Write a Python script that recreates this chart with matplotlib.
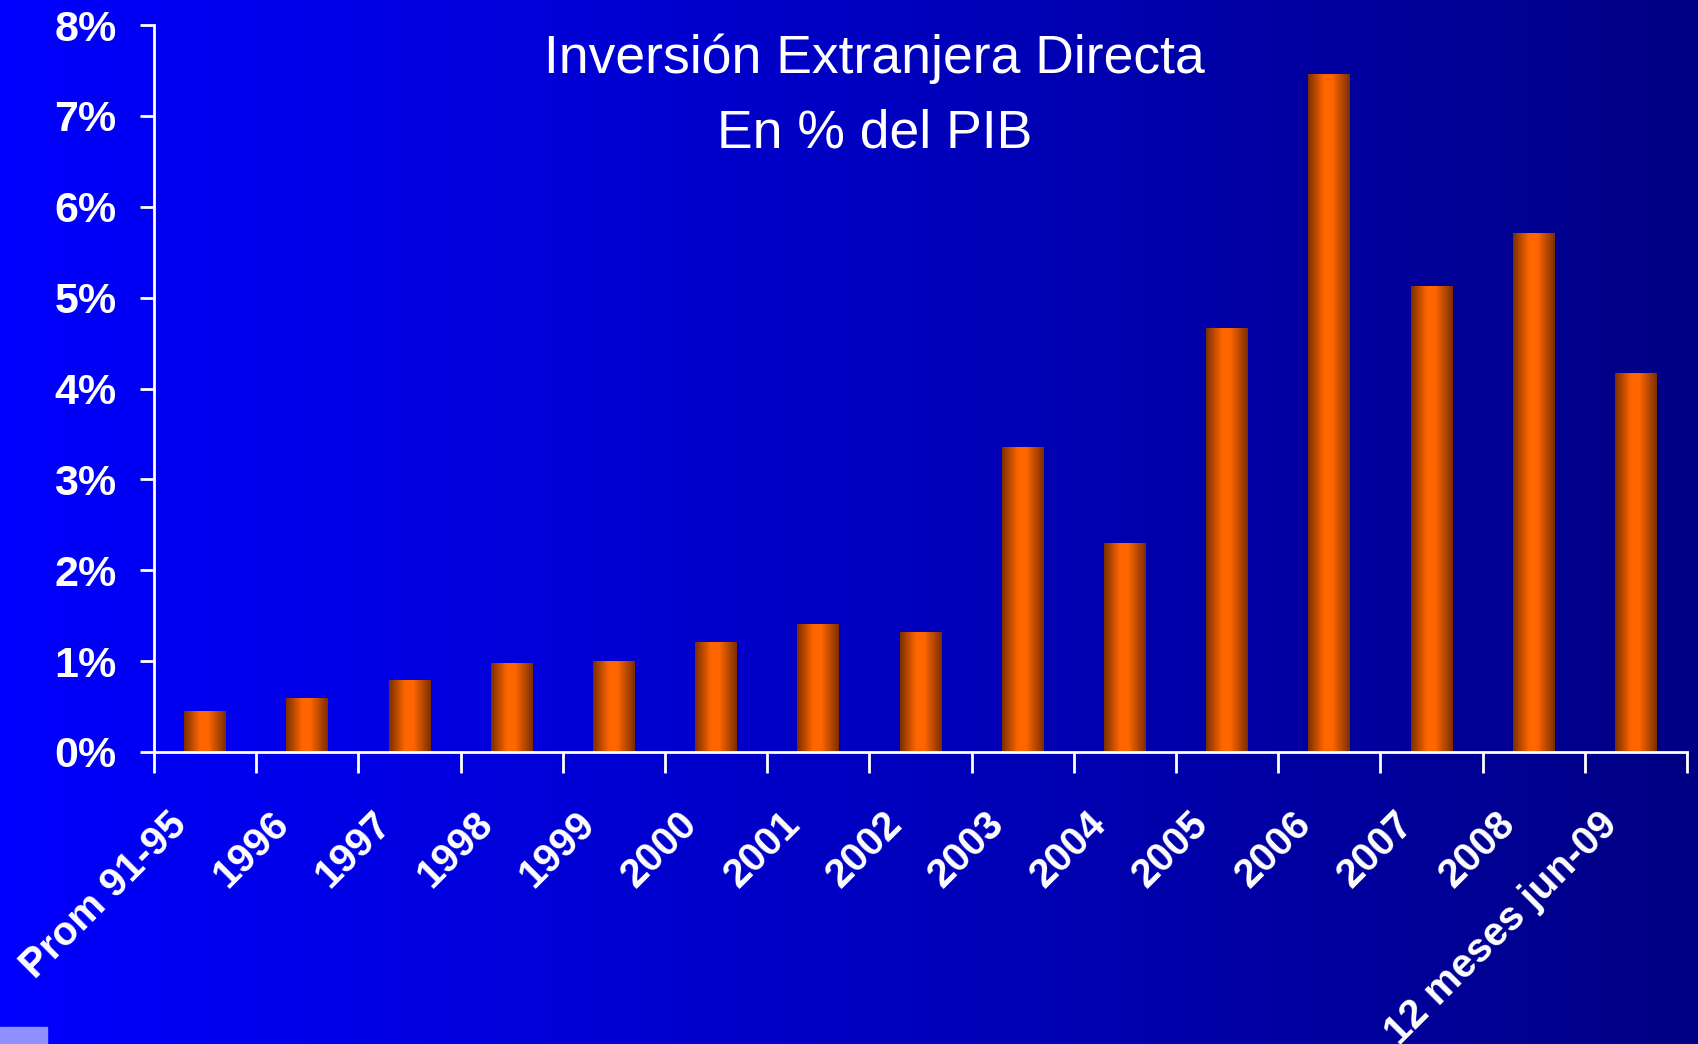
import numpy as np
import matplotlib
matplotlib.use("Agg")
import matplotlib.pyplot as plt
from matplotlib.colors import LinearSegmentedColormap
from matplotlib.ticker import FuncFormatter
from matplotlib.transforms import ScaledTranslation

categories = ["Prom 91-95", "1996", "1997", "1998", "1999", "2000", "2001", "2002",
              "2003", "2004", "2005", "2006", "2007", "2008", "12 meses jun-09"]
ied_pct = [0.45, 0.59, 0.79, 0.97, 1.00, 1.20, 1.40, 1.32,
           3.35, 2.29, 4.66, 7.46, 5.12, 5.71, 4.17]

title_lines = ["Inversión Extranjera Directa", "En % del PIB"]

plt.rcParams["font.family"] = ["Liberation Sans", "DejaVu Sans"]

fig = plt.figure(figsize=(16.98, 10.44), dpi=100)

# background: horizontal blue gradient
bg = fig.add_axes([0, 0, 1, 1], zorder=-10)
bg_cmap = LinearSegmentedColormap.from_list("bg", [(0, 0, 1.0), (0, 0, 0.52)])
bg.imshow(np.linspace(0, 1, 512).reshape(1, -1), cmap=bg_cmap, aspect="auto",
          extent=[0, 1, 0, 1])
bg.set_xlim(0, 1)
bg.set_ylim(0, 1)
bg.axis("off")
# small light patch in the lower-left corner
bg.add_patch(plt.Rectangle((0, 0), 47 / 1698, 17 / 1044, color="#8f8fff", zorder=5))

ax = fig.add_axes([0.0907, 0.2797, 0.9028, 0.6963])
ax.set_facecolor("none")

bar_cmap = LinearSegmentedColormap.from_list(
    "bar", [(0.0, "#7a2e00"), (0.38, "#ff6600"), (0.58, "#ff6600"), (1.0, "#7a2e00")])
grad = np.linspace(0, 1, 256).reshape(1, -1)

x = np.arange(len(categories))
width = 0.41
bars = ax.bar(x, ied_pct, width=width, color="none", edgecolor="none")
for b in bars:
    x0, y0 = b.get_x(), b.get_y()
    ax.imshow(grad, cmap=bar_cmap, aspect="auto", zorder=2,
              extent=[x0, x0 + b.get_width(), y0, y0 + b.get_height()])

ax.set_xlim(-0.5, len(categories) - 0.5)
ax.set_ylim(0, 8)

for side in ["top", "right"]:
    ax.spines[side].set_visible(False)
for side in ["left", "bottom"]:
    ax.spines[side].set_color("white")
    ax.spines[side].set_linewidth(2)

ax.set_yticks(range(0, 9))
ax.yaxis.set_major_formatter(FuncFormatter(lambda v, p: f"{int(v)}%"))
ax.tick_params(axis="y", colors="white", length=10, width=2, pad=17, labelsize=31)
for lab in ax.get_yticklabels():
    lab.set_fontweight("bold")

# ticks at category boundaries, labels at centers
ax.set_xticks(np.arange(-0.5, len(categories)), labels=[])
ax.tick_params(axis="x", which="major", colors="white", length=15, width=2)
ax.set_xticks(x, minor=True)
ax.set_xticklabels(categories, minor=True, rotation=45, ha="right",
                   rotation_mode="anchor", fontsize=29, fontweight="bold", color="white")
ax.tick_params(axis="x", which="minor", length=0, pad=38)
shift = ScaledTranslation(-0.38, 0, fig.dpi_scale_trans)
for lab in ax.get_xticklabels(minor=True):
    lab.set_transform(lab.get_transform() + shift)

fig.text(0.515, 0.944, title_lines[0], ha="center", va="center",
         fontsize=38.5, color="white")
fig.text(0.515, 0.872, title_lines[1], ha="center", va="center",
         fontsize=38.5, color="white")

fig.savefig("out.png", dpi=100)
